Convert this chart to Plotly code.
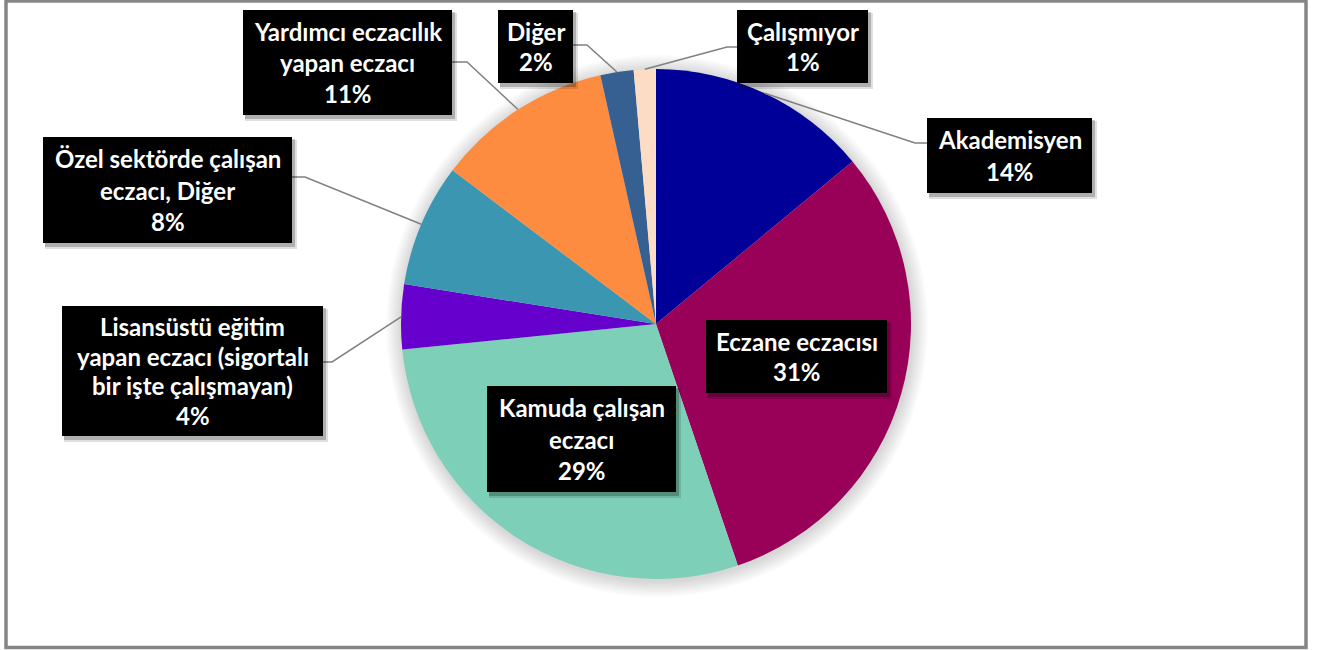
import math
import plotly.graph_objects as go

# ---------------- data ----------------
categories = [
    "Akademisyen",
    "Eczane eczacısı",
    "Kamuda çalışan eczacı",
    "Lisansüstü eğitim yapan eczacı (sigortalı bir işte çalışmayan)",
    "Özel sektörde çalışan eczacı, Diğer",
    "Yardımcı eczacılık yapan eczacı",
    "Diğer",
    "Çalışmıyor",
]
shares = [14.0, 30.8, 28.6, 4.1, 7.8, 11.2, 2.1, 1.4]
label_lines = [
    ["Akademisyen"],
    ["Eczane eczacısı"],
    ["Kamuda çalışan", "eczacı"],
    ["Lisansüstü eğitim", "yapan eczacı (sigortalı", "bir işte çalışmayan)"],
    ["Özel sektörde çalışan", "eczacı, Diğer"],
    ["Yardımcı eczacılık", "yapan eczacı"],
    ["Diğer"],
    ["Çalışmıyor"],
]
colors = ["#000099", "#990057", "#7ECFB8", "#6600CC", "#3B96B2", "#FD8C40", "#376092", "#FCDCC4"]

# ---------------- layout geometry (pixels) ----------------
W, H = 1320, 650
CX, CY, R = 656, 324, 255
# label boxes: x0, y0, x1, y1
boxes = [
    (927, 118, 1092, 193),
    (706, 320, 887, 393),
    (487, 386, 676, 492),
    (62, 306, 323, 436),
    (43, 137, 292, 243),
    (243, 10, 452, 115),
    (498, 10, 573, 83),
    (737, 10, 868, 83),
]
# leader lines: slice index -> (box edge x, attach y, elbow x)
leaders = {
    0: (927, 143, 915),
    3: (323, 362, 332),
    4: (292, 177, 305),
    5: (452, 62, 467),
    6: (573, 45, 587),
    7: (737, 47, 727),
}

FONT = "Lato"
FS = 24


def px(x):
    return x / W


def py(y):
    return 1 - y / H


fig = go.Figure()
fig.add_trace(go.Pie(
    labels=categories,
    values=shares,
    sort=False,
    direction="clockwise",
    rotation=0,
    marker=dict(colors=colors, line=dict(width=0)),
    textinfo="none",
    hoverinfo="label+percent",
    showlegend=False,
    domain=dict(x=[px(CX - R), px(CX + R)], y=[py(CY + R), py(CY - R)]),
))

shapes = []
# chart border
shapes.append(dict(type="rect", xref="paper", yref="paper",
                   x0=px(6), x1=px(1306), y0=py(647.5), y1=py(1),
                   line=dict(color="#868686", width=3.5), fillcolor="rgba(0,0,0,0)", layer="below"))
# soft halo behind the pie
for k in range(10, 0, -1):
    rr = R + k * 1.6
    shapes.append(dict(type="circle", xref="paper", yref="paper",
                       x0=px(CX + 1 - rr), x1=px(CX + 1 + rr), y0=py(CY + 2 + rr), y1=py(CY + 2 - rr),
                       line=dict(width=0), fillcolor="rgba(0,0,0,0.015)", layer="below"))

total = sum(shares)
cum = 0.0
mids = []
for v in shares:
    mids.append((cum + v / 2) / total * 360.0)
    cum += v

# leader lines
for i, (bx, by, ex) in leaders.items():
    th = math.radians(mids[i])
    x_edge = CX + R * math.sin(th)
    y_edge = CY - R * math.cos(th)
    path = f"M {px(bx)} {py(by)} L {px(ex)} {py(by)} L {px(x_edge)} {py(y_edge)}"
    shapes.append(dict(type="path", xref="paper", yref="paper", path=path,
                       line=dict(color="#808080", width=1.5)))

annotations = []
for i, (x0, y0, x1, y1) in enumerate(boxes):
    # shadow
    shapes.append(dict(type="rect", xref="paper", yref="paper",
                       x0=px(x0 + 2), x1=px(x1 + 5), y0=py(y1 + 6), y1=py(y0 + 3),
                       line=dict(width=0), fillcolor="rgba(0,0,0,0.12)"))
    shapes.append(dict(type="rect", xref="paper", yref="paper",
                       x0=px(x0 + 2), x1=px(x1 + 3), y0=py(y1 + 4), y1=py(y0 + 2),
                       line=dict(width=0), fillcolor="rgba(0,0,0,0.22)"))
    shapes.append(dict(type="rect", xref="paper", yref="paper",
                       x0=px(x0), x1=px(x1), y0=py(y1), y1=py(y0),
                       line=dict(width=0), fillcolor="#000000"))
    pct = f"{round(shares[i] / total * 100)}%"
    lines = label_lines[i] + [pct]
    n = len(lines)
    spacing = (y1 - y0 - 12) / n
    yc = (y0 + y1) / 2
    xc = (x0 + x1) / 2
    for j, t in enumerate(lines):
        ly = yc + (j - (n - 1) / 2) * spacing
        annotations.append(dict(x=px(xc), y=py(ly), xref="paper", yref="paper",
                                text=f"<b>{t}</b>", showarrow=False,
                                xanchor="center", yanchor="middle",
                                font=dict(family=FONT, size=FS, color="#FFFFFF")))

fig.update_layout(
    width=W, height=H,
    margin=dict(l=0, r=0, t=0, b=0),
    paper_bgcolor="#FFFFFF",
    plot_bgcolor="#FFFFFF",
    shapes=shapes,
    annotations=annotations,
)

fig.write_html("out.html",
               config={"displayModeBar": False},
               post_script="document.body.style.margin='0';document.body.style.overflow='hidden';")
